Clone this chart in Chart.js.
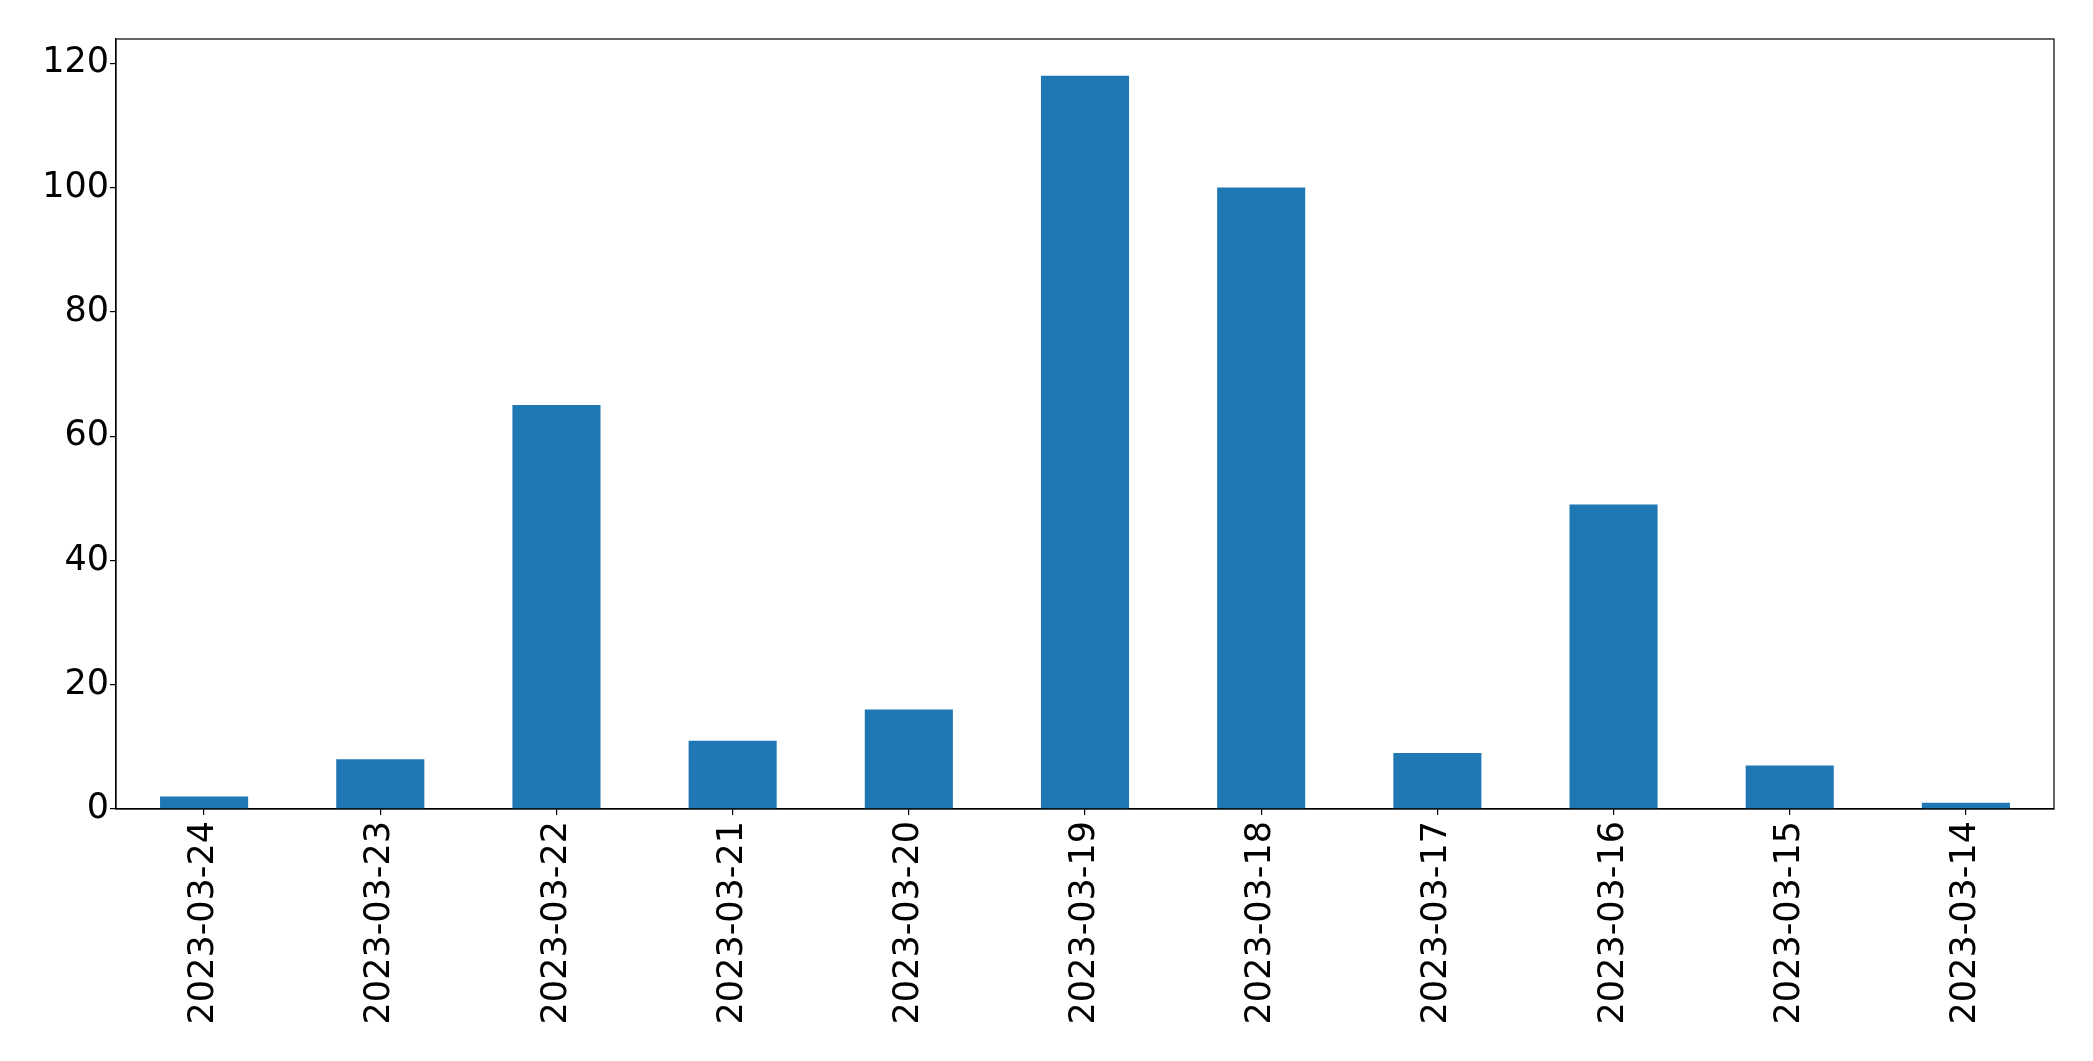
<!DOCTYPE html>
<html>
<head>
<meta charset="utf-8">
<script src="https://cdn.jsdelivr.net/npm/chart.js@4/dist/chart.umd.min.js"></script>
<style>
  body { margin: 0; background: #fff; }
  canvas { display: block; }
</style>
</head>
<body>
<canvas id="daily-count-bar-chart" width="2093" height="1061"></canvas>
<script>
const dates = [
  '2023-03-24', '2023-03-23', '2023-03-22', '2023-03-21', '2023-03-20', '2023-03-19',
  '2023-03-18', '2023-03-17', '2023-03-16', '2023-03-15', '2023-03-14',
];
const counts = [2, 8, 65, 11, 16, 118, 100, 9, 49, 7, 1];
const yTickStep = 20;

// matplotlib-style box round the plot area
const frameBox = {
  id: 'frameBox',
  afterDraw(chart) {
    const { ctx, chartArea } = chart;
    ctx.save();
    ctx.strokeStyle = '#000';
    ctx.lineWidth = 1.2;
    ctx.strokeRect(chartArea.left, chartArea.top, chartArea.right - chartArea.left, chartArea.bottom - chartArea.top);
    ctx.restore();
  },
};

const tickFont = { family: '"DejaVu Sans", sans-serif', size: 35 };

new Chart(document.getElementById('daily-count-bar-chart'), {
  type: 'bar',
  data: {
    labels: dates,
    datasets: [
      {
        label: 'count',
        data: counts,
        backgroundColor: '#1f77b4',
        barPercentage: 0.5,
        categoryPercentage: 1.0,
      },
    ],
  },
  options: {
    responsive: false,
    animation: false,
    layout: {
      padding: { left: 0, top: 39, right: 39, bottom: 0 },
    },
    plugins: {
      legend: { display: false },
      tooltip: { enabled: false },
    },
    scales: {
      x: {
        grid: { display: true, offset: false, drawOnChartArea: false, drawTicks: true, tickLength: 6, color: '#000', lineWidth: 1.2 },
        border: { display: true, color: '#000', width: 1.2 },
        ticks: { color: '#000', font: tickFont, minRotation: 90, maxRotation: 90, padding: 6, autoSkip: false },
        afterFit(scale) { scale.height = 252; },
      },
      y: {
        min: 0,
        max: Math.max(...counts) * 1.05,
        grid: { display: true, drawOnChartArea: false, drawTicks: true, tickLength: 6, color: '#000', lineWidth: 1.2 },
        border: { display: true, color: '#000', width: 1.2 },
        ticks: { color: '#000', font: tickFont, stepSize: yTickStep, includeBounds: false, padding: 1 },
        afterFit(scale) { scale.width = 116; },
      },
    },
  },
  plugins: [frameBox],
});
</script>
</body>
</html>
